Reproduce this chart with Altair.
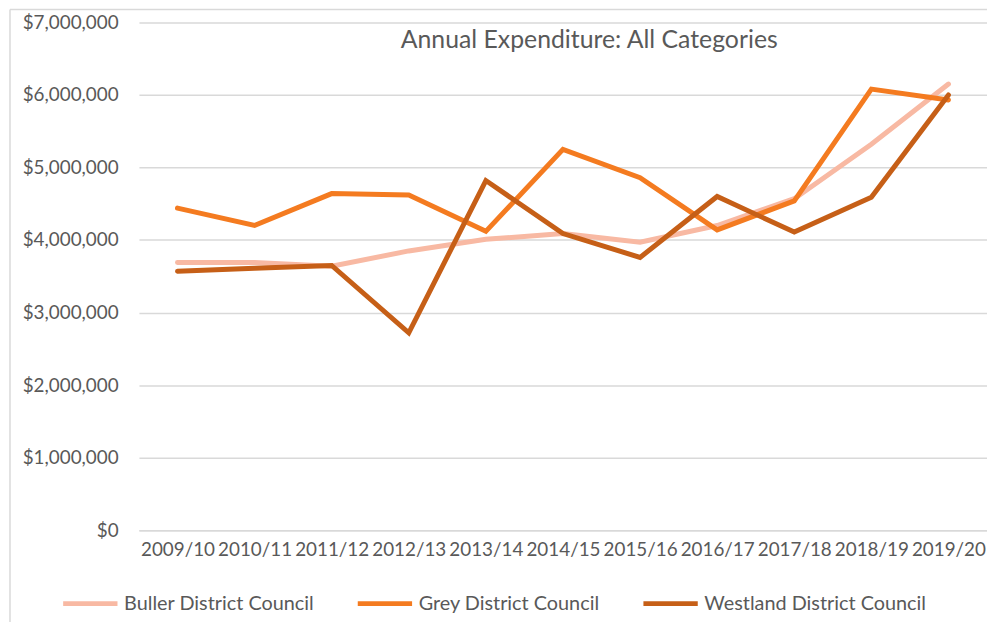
import altair as alt
import pandas as pd

years = ["2009/10", "2010/11", "2011/12", "2012/13", "2013/14", "2014/15",
         "2015/16", "2016/17", "2017/18", "2018/19", "2019/20"]
series = ["Buller District Council", "Grey District Council", "Westland District Council"]
buller = [3690000, 3690000, 3640000, 3850000, 4010000, 4090000, 3970000, 4200000, 4570000, 5320000, 6150000]
grey = [4440000, 4200000, 4640000, 4620000, 4120000, 5250000, 4860000, 4140000, 4540000, 6080000, 5930000]
westland = [3570000, 3610000, 3650000, 2720000, 4820000, 4090000, 3760000, 4600000, 4110000, 4590000, 6000000]
colors = ["#F8B9A3", "#F47B20", "#C65F17"]
title_text = ["Annual Expenditure: All Categories"]

rows = []
for name, vals in zip(series, [buller, grey, westland]):
    for y, v in zip(years, vals):
        rows.append({"Year": y, "Council": name, "Value": v})
df = pd.DataFrame(rows)
title_df = pd.DataFrame({"t": title_text})
one_df = pd.DataFrame({"k": [0]})

FONT = "Lato"
GREY_TXT = "#595959"

lines = alt.Chart(df).mark_line(strokeWidth=5, strokeCap="round").encode(
    x=alt.X("Year:N", sort=years, title=None,
            axis=alt.Axis(labelAngle=0, labelFont=FONT, labelFontSize=19, labelColor=GREY_TXT,
                          ticks=False, tickSize=0, domainColor="#D9D9D9", domainWidth=1.5,
                          labelPadding=10, labelLimit=0, grid=False)),
    y=alt.Y("Value:Q", scale=alt.Scale(domain=[0, 7000000], nice=False), title=None,
            axis=alt.Axis(values=[0, 1000000, 2000000, 3000000, 4000000, 5000000, 6000000, 7000000],
                          format="$,.0f", labelFont=FONT, labelFontSize=19, labelColor=GREY_TXT,
                          ticks=False, tickSize=0, domain=False, labelPadding=21,
                          gridColor="#D9D9D9", gridWidth=1.5)),
    color=alt.Color("Council:N", sort=series,
                    scale=alt.Scale(domain=series, range=colors),
                    legend=alt.Legend(title=None, orient="none", legendX=-79, legendY=556,
                                      direction="horizontal", symbolType="stroke",
                                      symbolSize=3000, symbolStrokeWidth=5,
                                      labelFont=FONT, labelFontSize=20, labelColor=GREY_TXT,
                                      labelOffset=4, columnPadding=33, labelLimit=0)),
)

title = alt.Chart(title_df).mark_text(font=FONT, fontSize=25, color=GREY_TXT, align="center",
                                      baseline="alphabetic").encode(
    x=alt.value(454), y=alt.value(26), text="t:N")

border_top = alt.Chart(one_df).mark_rule(color="#D9D9D9", strokeWidth=1.5).encode(
    x=alt.value(-130), x2=alt.value(900), y=alt.value(-13))
border_left = alt.Chart(one_df).mark_rule(color="#D9D9D9", strokeWidth=1.5).encode(
    x=alt.value(-130), y=alt.value(-13), y2=alt.value(620))

chart = alt.layer(border_top, border_left, title, lines).properties(
    width=855, height=512,
    padding={"left": 132, "top": 12, "right": 0, "bottom": 90},
    autosize="none",
).configure_view(stroke=None)

chart.save("out.html", embed_options={"renderer": "svg", "actions": False})
